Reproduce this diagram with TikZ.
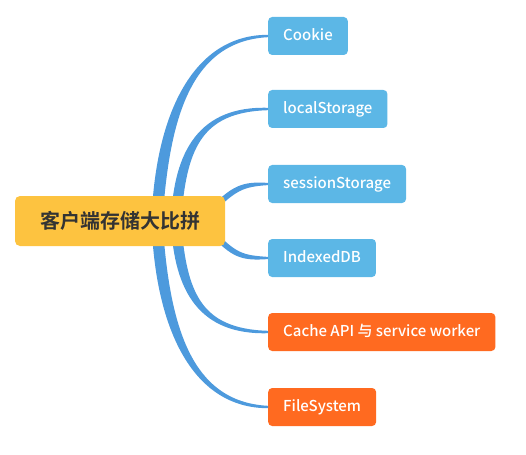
\documentclass[tikz,border=0pt]{standalone}
\usepackage{fontspec}
\setmainfont{Noto Sans CJK SC}[BoldFont={Noto Sans CJK SC Bold}]
\newfontfamily\leaffont{Noto Sans CJK SC Medium}
\usetikzlibrary{calc,positioning}
\definecolor{mmyellow}{RGB}{253,195,64}
\definecolor{mmblue}{RGB}{92,183,230}
\definecolor{mmorange}{RGB}{255,106,32}
\definecolor{mmline}{RGB}{77,154,221}
\definecolor{mmtext}{RGB}{51,51,51}
\tikzstyle{topic} = [rectangle, rounded corners=5pt, minimum width=210pt, minimum height=50pt, text centered, fill=mmyellow, text=mmtext, font=\fontsize{20}{24}\selectfont\bfseries]
\tikzstyle{leaf} = [rectangle, rounded corners=4pt, anchor=west, minimum height=38pt, inner xsep=15pt, text height=11.5pt, text depth=3pt, fill=mmblue, text=white, font=\leaffont\fontsize{15}{18}\selectfont]
\tikzstyle{newleaf} = [leaf, fill=mmorange]
\tikzstyle{branch} = [fill=mmline]
% tapered branch: start, control 1, control 2, target node, half width at start, half width at end
\newcommand\branch[6]{%
  \fill[branch] ($(#1)+(#5)$) .. controls ($(#2)+1.3*(#5)$) and ($(#3)+2.6*(#6)$) .. ($(#4.west)+(#6)$)
    -- ($(#4.west)-(#6)$) .. controls ($(#3)-2.6*(#6)$) and ($(#2)-1.3*(#5)$) .. ($(#1)-(#5)$) -- cycle;}

\begin{document}
\begin{tikzpicture}[x=1pt, y=-1pt]
\useasboundingbox (0,0) rectangle (526,454);
% Leaves
\node (cookie) [leaf] at (268,36) {Cookie};
\node (local) [leaf] at (268,109) {localStorage};
\node (session) [leaf] at (268,184) {sessionStorage};
\node (indexed) [leaf] at (268,258) {IndexedDB};
\node (cache) [newleaf] at (268,332) {Cache API 与 service worker};
\node (filesys) [newleaf] at (268,407) {FileSystem};

% Branches
\branch{157,221}{162,120}{190,38}{cookie}{-5.5,0}{0,-1.2}
\branch{176,221}{180,150}{200,109}{local}{-5,0}{0,-1.2}
\branch{210,212}{234,188}{242,184}{session}{-1.8,-1.8}{0,-1.1}
\branch{210,230}{234,256}{242,258}{indexed}{-1.8,1.8}{0,1.1}
\branch{176,221}{180,292}{200,332}{cache}{-5,0}{0,1.2}
\branch{157,221}{162,324}{190,405}{filesys}{-5.5,0}{0,1.2}

% Root
\node (root) [topic] at (120,221) {客户端存储大比拼};
\end{tikzpicture}
\end{document}
